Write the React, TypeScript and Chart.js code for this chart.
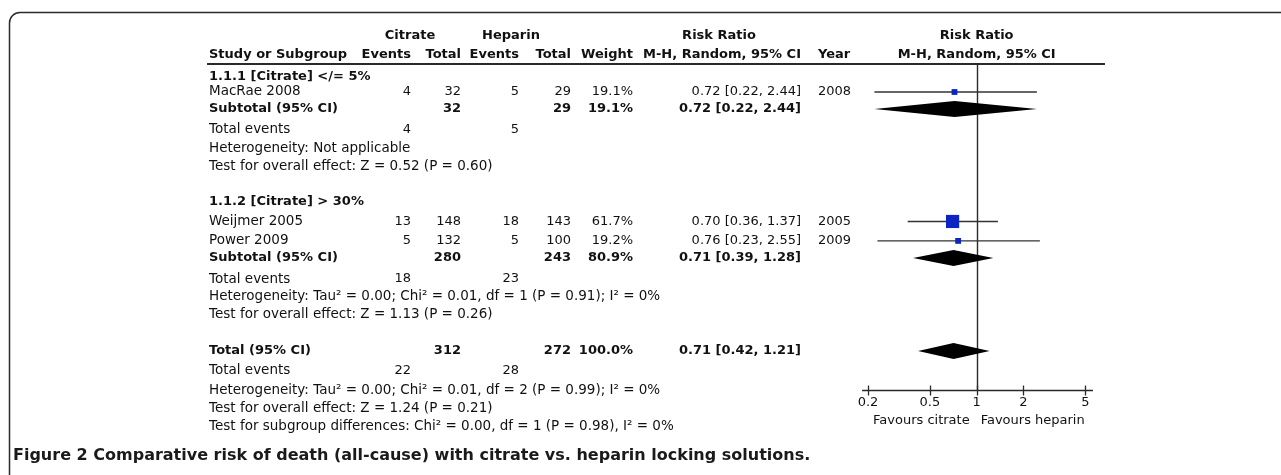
import React, { useEffect, useRef } from "react";
import { Chart, registerables } from "chart.js";

Chart.register(...registerables);

// ---------- data ----------
const studyNames = ["MacRae 2008", "Weijmer 2005", "Power 2009"];
const studyYears = ["2008", "2005", "2009"];
const citrateEvents = [4, 13, 5];
const citrateTotals = [32, 148, 132];
const heparinEvents = [5, 18, 5];
const heparinTotals = [29, 143, 100];
const studyWeights = [19.1, 61.7, 19.2];
const studyRR = [0.72, 0.7, 0.76];
const studyLow = [0.22, 0.36, 0.23];
const studyHigh = [2.44, 1.37, 2.55];
const studyRows = [0.81, 7.81, 8.86];

const pooledNames = ["Subtotal (95% CI)", "Subtotal (95% CI)", "Total (95% CI)"];
const pooledCitrateTotals = [32, 280, 312];
const pooledHeparinTotals = [29, 243, 272];
const pooledWeights = [19.1, 80.9, 100.0];
const pooledRR = [0.72, 0.71, 0.71];
const pooledLow = [0.22, 0.39, 0.42];
const pooledHigh = [2.44, 1.28, 1.21];
const pooledRows = [1.73, 9.78, 14.81];

const groupTitles = ["1.1.1 [Citrate] </= 5%", "1.1.2 [Citrate] > 30%"];
const groupRows = [0.0, 6.76];

const totalEventsCitrate = [4, 18, 22];
const totalEventsHeparin = [5, 23, 28];
const totalEventsRows = [2.86, 10.92, 15.89];

const heterogeneityTexts = [
  "Heterogeneity: Not applicable",
  "Heterogeneity: Tau² = 0.00; Chi² = 0.01, df = 1 (P = 0.91); I² = 0%",
  "Heterogeneity: Tau² = 0.00; Chi² = 0.01, df = 2 (P = 0.99); I² = 0%",
];
const heterogeneityRows = [3.86, 11.89, 16.92];

const overallEffectTexts = [
  "Test for overall effect: Z = 0.52 (P = 0.60)",
  "Test for overall effect: Z = 1.13 (P = 0.26)",
  "Test for overall effect: Z = 1.24 (P = 0.21)",
];
const overallEffectRows = [4.86, 12.86, 17.92];

const subgroupText = "Test for subgroup differences: Chi² = 0.00, df = 1 (P = 0.98), I² = 0%";
const subgroupRow = 18.92;

const axisTicks = [0.2, 0.5, 1, 2, 5];
const axisTickLabels = ["0.2", "0.5", "1", "2", "5"];
const favoursLeft = "Favours citrate";
const favoursRight = "Favours heparin";

const captionText =
  "Figure 2 Comparative risk of death (all-cause) with citrate vs. heparin locking solutions.";

// ---------- styles ----------
const FONT = "'DejaVu Sans', sans-serif";
const TXT = "#111";
const LINE = "#2a2a2a";
const BLUE = "#0b24c4";

const COL = {
  left: 209,
  citEv: 411,
  citTot: 461,
  hepEv: 519,
  hepTot: 571,
  weight: 633,
  ci: 801,
  year: 818,
};

function fmt2(v: number) {
  return v.toFixed(2);
}
function ciText(e: number, l: number, h: number) {
  return `${fmt2(e)} [${fmt2(l)}, ${fmt2(h)}]`;
}

const forestPlugin = {
  id: "forest",
  beforeDatasetsDraw(chart: any) {
    const ctx = chart.ctx as CanvasRenderingContext2D;
    const xs = chart.scales.x;
    const area = chart.chartArea;
    const x1 = Math.round(xs.getPixelForValue(1)) + 0.5;
    ctx.save();
    ctx.strokeStyle = LINE;
    ctx.lineWidth = 1.4;
    ctx.beginPath();
    ctx.moveTo(x1, area.top);
    ctx.lineTo(x1, area.bottom);
    ctx.stroke();
    ctx.restore();
  },
  afterDatasetsDraw(chart: any) {
    const ctx = chart.ctx as CanvasRenderingContext2D;
    const xs = chart.scales.x;
    const ys = chart.scales.y;
    const area = chart.chartArea;
    const W = chart.width;
    const H = chart.height;

    ctx.save();
    // frame with rounded top-left corner
    ctx.strokeStyle = "#2b2b2b";
    ctx.lineWidth = 1.5;
    ctx.beginPath();
    ctx.moveTo(9.5, H + 2);
    ctx.lineTo(9.5, 23);
    ctx.arcTo(9.5, 12.5, 20, 12.5, 10.5);
    ctx.lineTo(W + 2, 12.5);
    ctx.stroke();

    // diamonds
    ctx.fillStyle = "#000";
    pooledRR.forEach((est, i) => {
      const y = ys.getPixelForValue(pooledRows[i]);
      const xl = xs.getPixelForValue(pooledLow[i]);
      const xe = xs.getPixelForValue(est);
      const xh = xs.getPixelForValue(pooledHigh[i]);
      ctx.beginPath();
      ctx.moveTo(xl, y);
      ctx.lineTo(xe, y - 8);
      ctx.lineTo(xh, y);
      ctx.lineTo(xe, y + 8);
      ctx.closePath();
      ctx.fill();
    });

    // header line
    ctx.strokeStyle = LINE;
    ctx.lineWidth = 1.8;
    ctx.beginPath();
    ctx.moveTo(207, area.top);
    ctx.lineTo(1105, area.top);
    ctx.stroke();

    // x axis
    const ax = Math.round(area.bottom) + 0.5;
    ctx.lineWidth = 1.3;
    ctx.beginPath();
    ctx.moveTo(area.left, ax);
    ctx.lineTo(area.right, ax);
    axisTicks.forEach((t) => {
      const px = Math.round(xs.getPixelForValue(t)) + 0.5;
      ctx.moveTo(px, ax - 5);
      ctx.lineTo(px, ax + 5);
    });
    ctx.stroke();

    ctx.fillStyle = TXT;
    ctx.textBaseline = "middle";
    const fonts: Record<string, string> = {
      t: `13.5px ${FONT}`,
      n: `13px ${FONT}`,
      b: `bold 13px ${FONT}`,
    };
    const text = (s: string, x: number, y: number, align: CanvasTextAlign, f = "t") => {
      ctx.font = fonts[f];
      ctx.textAlign = align;
      ctx.fillText(s, x, y);
    };

    axisTicks.forEach((t, i) => {
      text(axisTickLabels[i], xs.getPixelForValue(t), ax + 12, "center", "n");
    });
    const xOne = xs.getPixelForValue(1);
    text(favoursLeft, xOne - 7, ax + 30, "right", "n");
    text(favoursRight, xOne + 4, ax + 30, "left", "n");

    // headers
    const h1 = 36;
    const h2 = 55;
    text("Citrate", 410, h1, "center", "b");
    text("Heparin", 511, h1, "center", "b");
    text("Risk Ratio", 719, h1, "center", "b");
    text("Risk Ratio", xOne, h1, "center", "b");
    text("Study or Subgroup", COL.left, h2, "left", "b");
    text("Events", COL.citEv, h2, "right", "b");
    text("Total", COL.citTot, h2, "right", "b");
    text("Events", COL.hepEv, h2, "right", "b");
    text("Total", COL.hepTot, h2, "right", "b");
    text("Weight", COL.weight, h2, "right", "b");
    text("M-H, Random, 95% CI", COL.ci, h2, "right", "b");
    text("Year", COL.year, h2, "left", "b");
    text("M-H, Random, 95% CI", xOne, h2, "center", "b");

    groupTitles.forEach((g, i) => text(g, COL.left, ys.getPixelForValue(groupRows[i]), "left", "b"));

    studyNames.forEach((n, i) => {
      const y = ys.getPixelForValue(studyRows[i]);
      text(n, COL.left, y, "left");
      text(String(citrateEvents[i]), COL.citEv, y, "right", "n");
      text(String(citrateTotals[i]), COL.citTot, y, "right", "n");
      text(String(heparinEvents[i]), COL.hepEv, y, "right", "n");
      text(String(heparinTotals[i]), COL.hepTot, y, "right", "n");
      text(studyWeights[i].toFixed(1) + "%", COL.weight, y, "right", "n");
      text(ciText(studyRR[i], studyLow[i], studyHigh[i]), COL.ci, y, "right", "n");
      text(studyYears[i], COL.year, y, "left", "n");
    });

    pooledNames.forEach((n, i) => {
      const y = ys.getPixelForValue(pooledRows[i]);
      text(n, COL.left, y, "left", "b");
      text(String(pooledCitrateTotals[i]), COL.citTot, y, "right", "b");
      text(String(pooledHeparinTotals[i]), COL.hepTot, y, "right", "b");
      text(pooledWeights[i].toFixed(1) + "%", COL.weight, y, "right", "b");
      text(ciText(pooledRR[i], pooledLow[i], pooledHigh[i]), COL.ci, y, "right", "b");
    });

    totalEventsRows.forEach((r, i) => {
      const y = ys.getPixelForValue(r);
      text("Total events", COL.left, y, "left");
      text(String(totalEventsCitrate[i]), COL.citEv, y, "right", "n");
      text(String(totalEventsHeparin[i]), COL.hepEv, y, "right", "n");
    });
    heterogeneityTexts.forEach((s, i) => text(s, COL.left, ys.getPixelForValue(heterogeneityRows[i]), "left"));
    overallEffectTexts.forEach((s, i) => text(s, COL.left, ys.getPixelForValue(overallEffectRows[i]), "left"));
    text(subgroupText, COL.left, ys.getPixelForValue(subgroupRow), "left");

    // caption
    ctx.font = `bold 16px ${FONT}`;
    ctx.textAlign = "left";
    ctx.fillStyle = "#1a1a1a";
    ctx.fillText(captionText, 13, 456);
    ctx.restore();
  },
};

export default function App() {
  const ref = useRef<HTMLCanvasElement | null>(null);
  useEffect(() => {
    document.body.style.margin = "0";
    const canvas = ref.current;
    if (!canvas) return;
    const ciSets = studyNames.map((n, i) => ({
      type: "line" as const,
      label: n + " CI",
      data: [
        { x: studyLow[i], y: studyRows[i] },
        { x: studyHigh[i], y: studyRows[i] },
      ],
      borderColor: "#333",
      borderWidth: 1.3,
      pointRadius: 0,
      fill: false,
      order: 2,
    }));
    const chart = new Chart(canvas, {
      type: "scatter",
      data: {
        datasets: [
          ...ciSets,
          {
            type: "scatter" as const,
            label: "Risk ratio",
            data: studyRR.map((v, i) => ({ x: v, y: studyRows[i] })),
            pointStyle: "rect",
            pointRadius: studyWeights.map((w) => 0.52 * Math.pow(w, 0.7)),
            pointHoverRadius: studyWeights.map((w) => 0.52 * Math.pow(w, 0.7)),
            backgroundColor: BLUE,
            borderColor: BLUE,
            borderWidth: 0,
            order: 1,
          } as any,
        ],
      },
      options: {
        animation: false,
        responsive: false,
        devicePixelRatio: 1,
        layout: { padding: { left: 862, right: 188, top: 64, bottom: 85 } },
        plugins: { legend: { display: false }, tooltip: { enabled: false } },
        events: [],
        scales: {
          x: { type: "logarithmic", min: 0.183, max: 5.6, display: false },
          y: { type: "linear", min: -0.703, max: 16.92, reverse: true, display: false },
        },
      },
      plugins: [forestPlugin],
    });
    return () => chart.destroy();
  }, []);
  return (
    <div style={{ position: "absolute", left: 0, top: 0, width: 1281, height: 475, background: "#fff" }}>
      <canvas ref={ref} width={1281} height={475} style={{ display: "block" }} />
    </div>
  );
}
